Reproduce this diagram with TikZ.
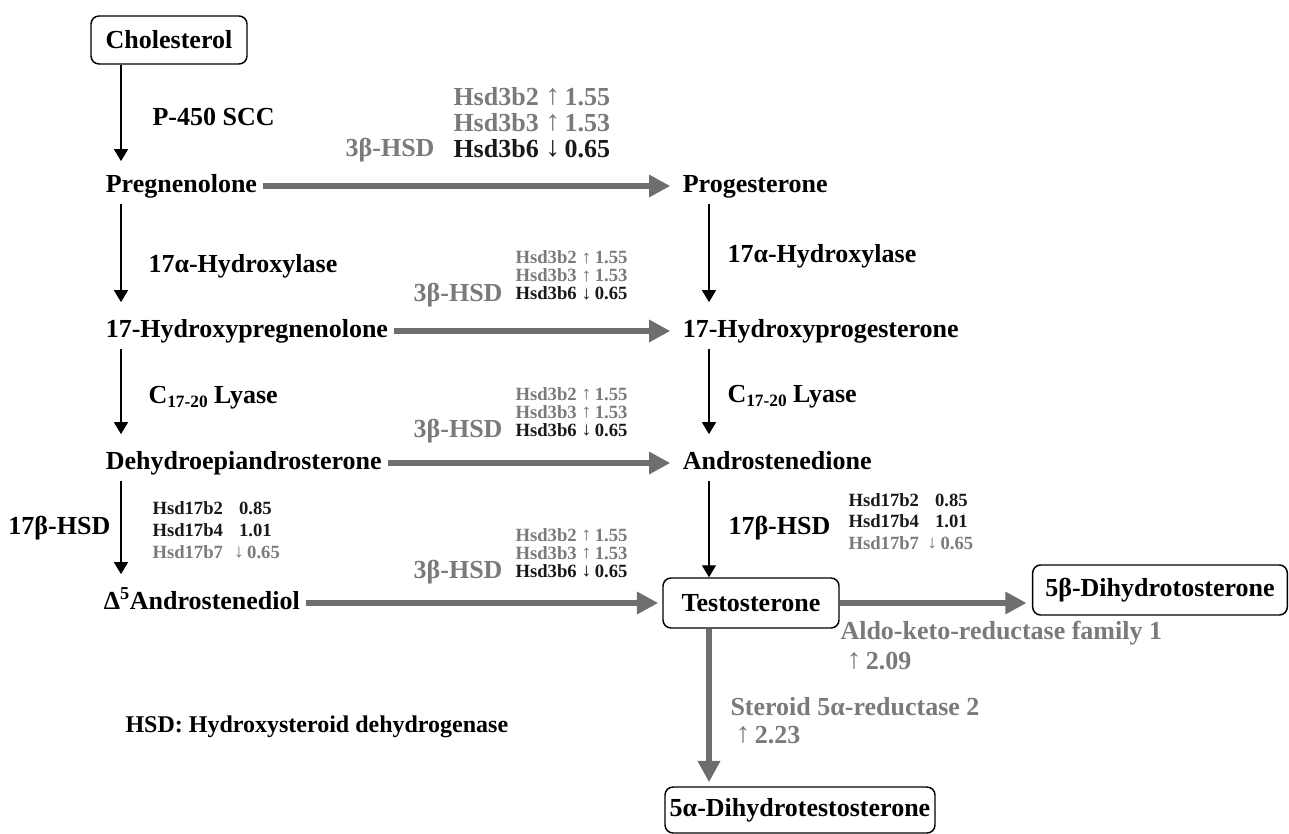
\documentclass[tikz,border=0pt]{standalone}
\usepackage{fontspec}
\usepackage{graphicx}
\setmainfont{Liberation Serif}
\usetikzlibrary{arrows.meta}

\definecolor{hsdgray}{RGB}{122,122,122}
\definecolor{flowgray}{RGB}{110,110,110}
\definecolor{hsdblack}{RGB}{25,25,25}

\newcommand{\upar}{\raisebox{0.02em}{\scalebox{1.15}[1.1]{↑}}}
\newcommand{\dnar}{\raisebox{0.02em}{\scalebox{1.15}[1.1]{↓}}}
\newcommand{\smup}{\raisebox{0.04em}{\scalebox{1.1}[1.0]{↑}}}
\newcommand{\smdn}{\raisebox{0.04em}{\scalebox{1.1}[1.0]{↓}}}

\tikzset{every picture/.style={line width=0.75pt}}
\tikzset{
  steroid/.style={anchor=west,inner sep=4pt,text height=14pt,text depth=4.5pt,font=\fontsize{19.5}{22}\selectfont\bfseries},
  steroidbox/.style={draw,rounded corners=6pt,line width=1.1pt,inner sep=0pt,font=\fontsize{19.5}{22}\selectfont\bfseries},
  enzyme/.style={anchor=west,inner sep=0pt,font=\fontsize{19.5}{22}\selectfont\bfseries},
  hsdbig/.style={anchor=west,inner sep=0pt,text height=13pt,text depth=2pt,font=\fontsize{19.5}{22}\selectfont\bfseries},
  hsdsmall/.style={anchor=west,inner sep=0pt,text height=10pt,text depth=1pt,font=\fontsize{14}{16}\selectfont\bfseries},
  hsdname/.style={anchor=east,inner sep=0pt,text=hsdgray,font=\fontsize{19.5}{22}\selectfont\bfseries},
  convert/.style={-{Triangle[length=9pt,width=10.5pt]},line width=1pt,shorten >=8pt},
  dehydro/.style={-{Triangle[length=16pt,width=16pt]},line width=4.5pt,draw=flowgray},
}

\begin{document}
\begin{tikzpicture}[x=0.75pt,y=0.75pt,yscale=-1,xscale=1]
\useasboundingbox (0,0) rectangle (1289,834);

%Columns of the thin arrows
\coordinate (lx) at (121,0);
\coordinate (rx) at (709,0);

% Boxes
\node (chol) [steroidbox,minimum width=117pt,minimum height=36pt] at (169,40) {Cholesterol};
\node (testo) [steroidbox,minimum width=132pt,minimum height=37.5pt] at (751,603) {Testosterone};
\node (dhtb) [steroidbox,minimum width=191pt,minimum height=37.5pt] at (1160,590) {5β-Dihydrotosterone};
\node (dhta) [steroidbox,minimum width=202.5pt,minimum height=34.5pt] at (800,810) {5α-Dihydrotestosterone};

% Steroids
\node (preg) [steroid] at (100,186) {Pregnenolone};
\node (prog) [steroid] at (677,186) {Progesterone};
\node (ohpreg) [steroid] at (100,331) {17-Hydroxypregnenolone};
\node (ohprog) [steroid] at (677,331) {17-Hydroxyprogesterone};
\node (dhea) [steroid] at (100,463) {Dehydroepiandrosterone};
\node (andro) [steroid] at (677,463) {Androstenedione};
\node (adiol) [steroid] at (98,603) {Δ\textsuperscript{5}Androstenediol};

%Thin arrows
\draw [convert,shorten >=5pt] (chol.south -| lx) -- (preg.north -| lx);
\draw [convert] (preg.south -| lx) -- (ohpreg.north -| lx);
\draw [convert] (ohpreg.south -| lx) -- (dhea.north -| lx);
\draw [convert] (dhea.south -| lx) -- (adiol.north -| lx);
\draw [convert] (prog.south -| rx) -- (ohprog.north -| rx);
\draw [convert] (ohprog.south -| rx) -- (andro.north -| rx);
\draw [convert,shorten >=0pt] (andro.south -| rx) -- (testo.north -| rx);

%Thick gray arrows
\draw [dehydro,shorten >=5pt] (preg.east) -- (prog.west);
\draw [dehydro,shorten >=5pt] (ohpreg.east) -- (ohprog.west);
\draw [dehydro,shorten >=5pt] (dhea.east) -- (andro.west);
\draw [dehydro,shorten >=3pt] (adiol.east) -- (testo.west);
\draw [dehydro,shorten >=4pt] (testo.east) -- (testo.east -| dhtb.west);
\draw [dehydro,shorten >=3pt] (testo.south -| rx) -- (dhta.north -| rx);

% Text Node
\node (scc) [enzyme] at (152,117) {P-450 SCC};
% Text Node
\node (hyl) [enzyme] at (148,266) {17α-Hydroxylase};
% Text Node
\node (lyl) [enzyme] at (148,398) {C\raisebox{-0.35ex}{\fontsize{13}{13}\selectfont 17-20} Lyase};
% Text Node
\node (hsdl) [enzyme] at (8,528) {17β-HSD};
% Text Node
\node (hyr) [enzyme] at (727,256) {17α-Hydroxylase};
% Text Node
\node (lyr) [enzyme] at (727,397) {C\raisebox{-0.35ex}{\fontsize{13}{13}\selectfont 17-20} Lyase};
% Text Node
\node (hsdr) [enzyme] at (728,528) {17β-HSD};

% Text Node
\node (ba2) [hsdbig,text=hsdgray] at (453,98) {Hsd3b2 \upar\,1.55};
\node (ba3) [hsdbig,text=hsdgray] at (453,124) {Hsd3b3 \upar\,1.53};
\node (ba6) [hsdbig,text=hsdblack] at (453,150) {Hsd3b6 \dnar\,0.65};
\node (bahsd) [hsdname] at (435,150) {3β-HSD};

% Text Node
\node (bb2) [hsdsmall,text=hsdgray] at (515,258) {Hsd3b2 \smup\,1.55};
\node (bb3) [hsdsmall,text=hsdgray] at (515,276) {Hsd3b3 \smup\,1.53};
\node (bb6) [hsdsmall,text=hsdblack] at (515,294) {Hsd3b6 \smdn\,0.65};
\node (bbhsd) [hsdname] at (503,295) {3β-HSD};

% Text Node
\node (bc2) [hsdsmall,text=hsdgray] at (515,394) {Hsd3b2 \smup\,1.55};
\node (bc3) [hsdsmall,text=hsdgray] at (515,412) {Hsd3b3 \smup\,1.53};
\node (bc6) [hsdsmall,text=hsdblack] at (515,430) {Hsd3b6 \smdn\,0.65};
\node (bchsd) [hsdname] at (503,431) {3β-HSD};

% Text Node
\node (bd2) [hsdsmall,text=hsdgray] at (515,535) {Hsd3b2 \smup\,1.55};
\node (bd3) [hsdsmall,text=hsdgray] at (515,553) {Hsd3b3 \smup\,1.53};
\node (bd6) [hsdsmall,text=hsdblack] at (515,571) {Hsd3b6 \smdn\,0.65};
\node (bdhsd) [hsdname] at (503,572) {3β-HSD};

% Text Node
\node (la2) [hsdsmall,text=hsdblack] at (152,508) {\makebox[65pt][l]{Hsd17b2}0.85};
\node (la4) [hsdsmall,text=hsdblack] at (152,530) {\makebox[65pt][l]{Hsd17b4}1.01};
\node (la7) [hsdsmall,text=hsdgray] at (152,552) {\makebox[61pt][l]{Hsd17b7}\smdn\,0.65};

% Text Node
\node (ra2) [hsdsmall,text=hsdblack] at (848,500) {\makebox[65pt][l]{Hsd17b2}0.85};
\node (ra4) [hsdsmall,text=hsdblack] at (848,521) {\makebox[65pt][l]{Hsd17b4}1.01};
\node (ra7) [hsdsmall,text=hsdgray] at (848,543) {\makebox[59pt][l]{Hsd17b7}\smdn\,0.65};

% Text Node
\node (akr) [enzyme,text=hsdgray] at (840,633) {Aldo-keto-reductase family 1};
\node (akrv) [enzyme,text=hsdgray] at (846,661) {\upar\,2.09};
% Text Node
\node (srd) [enzyme,text=hsdgray] at (730,707) {Steroid 5α-reductase 2};
\node (srdv) [enzyme,text=hsdgray] at (735,735) {\upar\,2.23};

% Text Node
\node (note) [enzyme,font=\fontsize{18}{20}\selectfont\bfseries] at (125,727) {HSD: Hydroxysteroid dehydrogenase};

\end{tikzpicture}
\end{document}
